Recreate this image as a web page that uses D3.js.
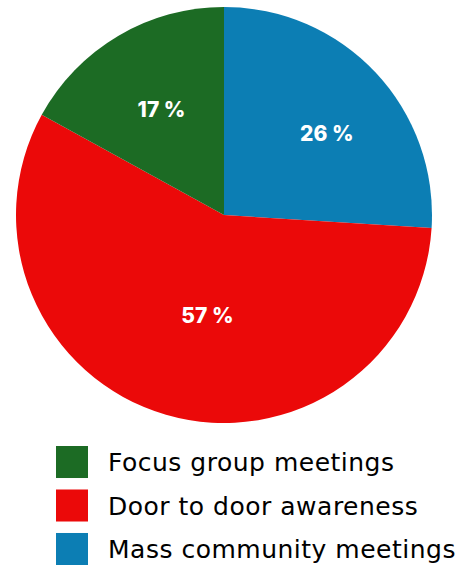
<!DOCTYPE html>
<html><head><meta charset="utf-8">
<script src="https://cdn.jsdelivr.net/npm/d3@7"></script>
<style>html,body{margin:0;padding:0;background:#fff;}svg{display:block;}</style>
</head><body>
<svg id="c" width="473" height="565"></svg>
<script>
const categories = ["Focus group meetings", "Door to door awareness", "Mass community meetings"];
const values = [17, 57, 26];
const colors = ["#1c6b24", "#eb0909", "#0c7eb4"];
// draw order around the pie (clockwise from 12 o'clock)
const pieOrder = [2, 1, 0];

const svg = d3.select("#c");
const cx = 224, cy = 215, R = 208;
const labelFactor = {0: 0.59, 1: 0.49, 2: 0.63};
const labelAngleShift = {0: 0, 1: -0.12, 2: 0.085};

const pie = d3.pie().sort(null).value(i => values[i]);
const arcs = pie(pieOrder);
const arc = d3.arc().innerRadius(0).outerRadius(R);

const g = svg.append("g").attr("transform", `translate(${cx},${cy})`);
g.selectAll("path").data(arcs).join("path")
  .attr("d", arc).attr("fill", d => colors[d.data]);

g.selectAll("text").data(arcs).join("text")
  .attr("transform", d => {
    const k = labelFactor[d.data] * R;
    const a = (d.startAngle + d.endAngle) / 2 + labelAngleShift[d.data];
    const la = d3.arc().innerRadius(k).outerRadius(k);
    const c = la.centroid({startAngle: a, endAngle: a});
    return `translate(${c[0]},${c[1]})`;
  })
  .attr("text-anchor", "middle").attr("dy", "0.36em")
  .attr("fill", "#fff").attr("font-family", "Inter, 'Noto Sans', sans-serif")
  .attr("font-weight", 800).attr("font-size", 21)
  .text(d => values[d.data] + " %");

const y = d3.scaleBand().domain(categories).range([446, 565]).paddingInner(0.264).paddingOuter(0);
const lg = svg.append("g");
lg.selectAll("rect").data(categories).join("rect")
  .attr("x", 56).attr("y", d => y(d)).attr("width", 32).attr("height", y.bandwidth())
  .attr("fill", (d, i) => colors[i]);
lg.selectAll("text").data(categories).join("text")
  .attr("x", 108).attr("y", d => y(d) + y.bandwidth() / 2).attr("dy", "0.36em")
  .attr("font-family", "'DejaVu Sans', sans-serif").attr("font-weight", 400)
  .attr("font-size", 25).attr("letter-spacing", 0.5).attr("fill", "#000")
  .text(d => d);
</script>
</body></html>
